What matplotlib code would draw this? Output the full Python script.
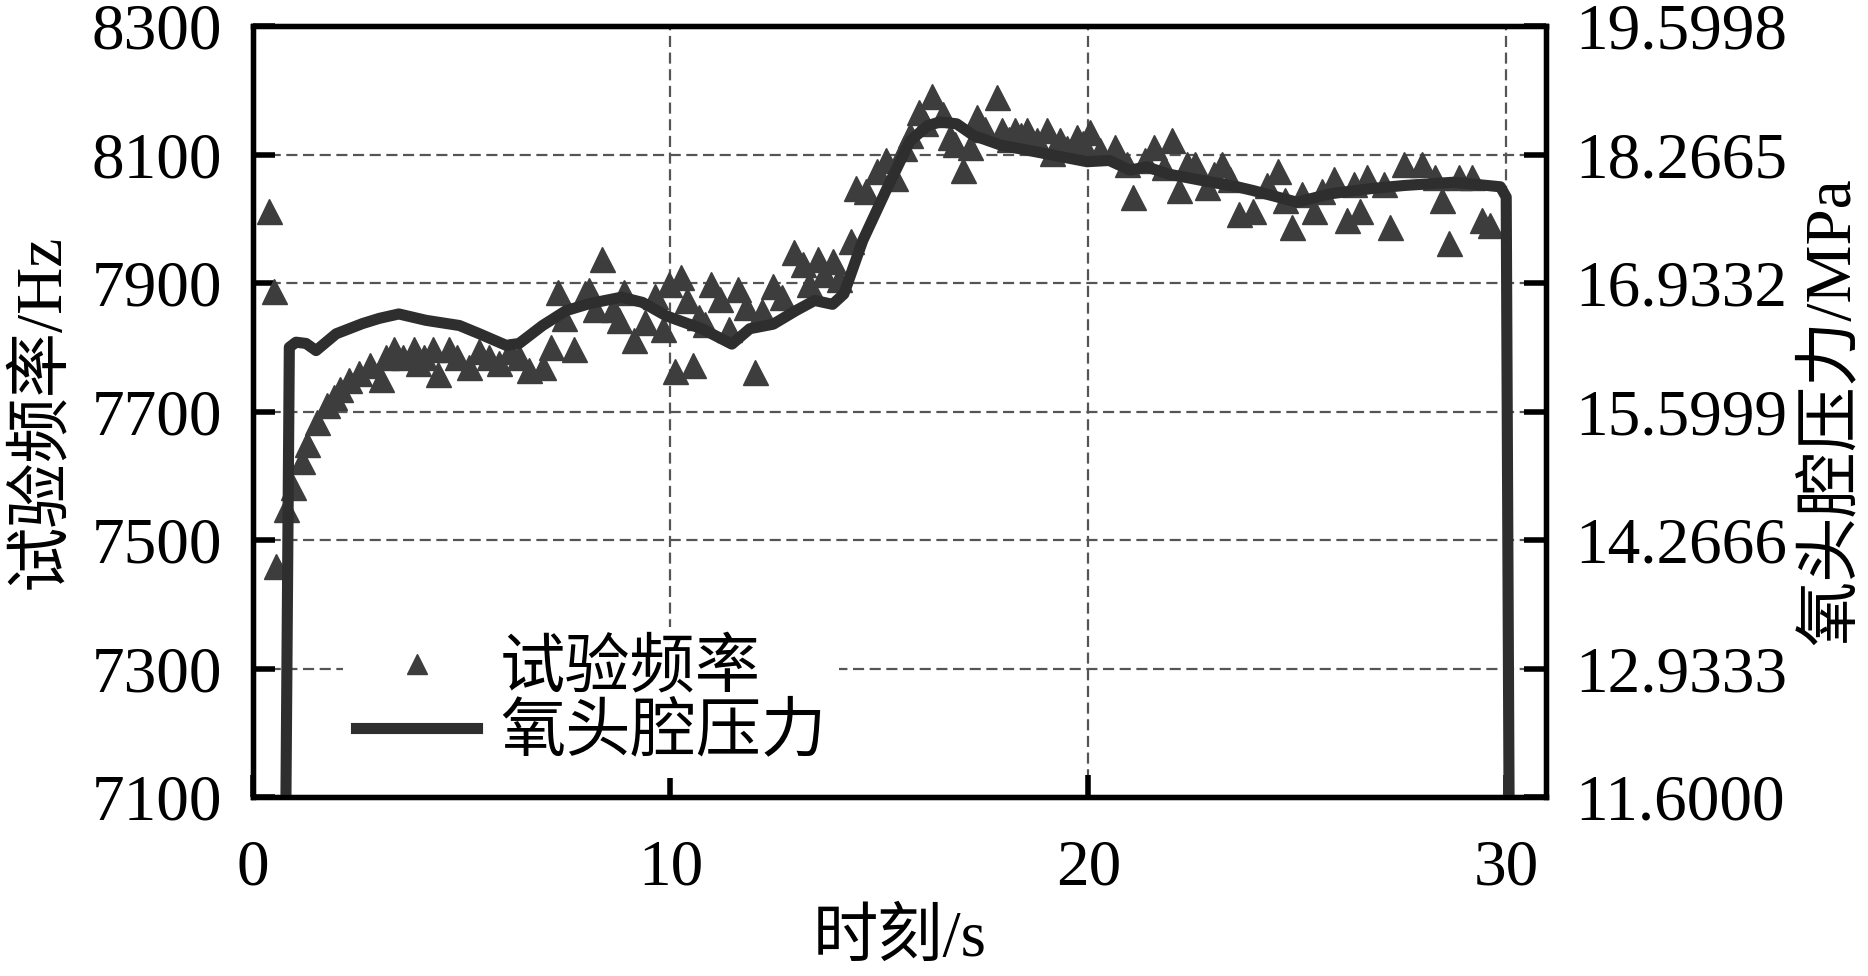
import matplotlib
matplotlib.use('Agg')
import matplotlib.pyplot as plt
from matplotlib.lines import Line2D

plt.rcParams['font.family'] = ['Liberation Serif', 'Noto Sans CJK SC']
plt.rcParams['axes.unicode_minus'] = False

# test frequency (triangles)
t_freq = [0.40, 0.52, 0.57, 0.80, 0.97, 1.18, 1.30, 1.54, 1.77, 1.96, 2.10, 2.30, 2.55, 2.80,
          3.07, 3.20, 3.39, 3.60, 3.87, 3.95, 4.10, 4.31, 4.43, 4.70, 4.90, 5.19, 5.43, 5.67,
          5.90, 6.15, 6.38, 6.62, 6.94, 7.14, 7.30, 7.46, 7.70, 7.96, 8.04, 8.19, 8.36, 8.62,
          8.76, 8.90, 9.12, 9.40, 9.62, 9.83, 9.97, 10.11, 10.26, 10.40, 10.54, 10.68, 10.83,
          10.97, 11.18, 11.39, 11.61, 11.82, 12.03, 12.18, 12.46, 12.67, 12.96, 13.17, 13.31,
          13.53, 13.67, 13.88, 14.03, 14.31, 14.45, 14.67, 14.95, 15.16, 15.38, 15.59, 15.73,
          15.95, 16.10, 16.27, 16.53, 16.69, 16.81, 17.01, 17.17, 17.33, 17.53, 17.81, 17.93,
          18.10, 18.25, 18.40, 18.53, 18.77, 19.01, 19.13, 19.33, 19.50, 19.73, 19.88, 20.04,
          20.28, 20.64, 20.92, 21.08, 21.36, 21.56, 21.80, 22.00, 22.16, 22.36, 22.56, 22.84,
          23.00, 23.20, 23.40, 23.60, 23.95, 24.27, 24.55, 24.71, 24.87, 25.11, 25.39, 25.59,
          25.87, 26.19, 26.35, 26.51, 26.67, 27.07, 27.23, 27.55, 27.98, 28.30, 28.46, 28.62,
          28.86, 29.18, 29.42, 29.62]
freq = [8012, 7887, 7460, 7548, 7583, 7623, 7650, 7683, 7711, 7723, 7735, 7749, 7760, 7772,
        7751, 7785, 7797, 7785, 7797, 7775, 7785, 7797, 7759, 7797, 7785, 7770, 7795, 7785,
        7775, 7795, 7785, 7765, 7770, 7800, 7886, 7845, 7798, 7884, 7889, 7860, 7937, 7860,
        7842, 7886, 7812, 7840, 7880, 7829, 7898, 7763, 7910, 7874, 7773, 7847, 7837,
        7898, 7876, 7829, 7891, 7863, 7762, 7857, 7896, 7878, 7948, 7930, 7898,
        7938, 7914, 7935, 7906, 7966, 8048, 8043, 8074, 8092, 8064, 8110, 8131,
        8167, 8150, 8191, 8164, 8127, 8117, 8076, 8112, 8158, 8140, 8190, 8138,
        8125, 8138, 8130, 8138, 8122, 8138, 8102, 8122, 8110, 8127, 8118, 8135,
        8107, 8112, 8086, 8034, 8091, 8112, 8081, 8122, 8045, 8086, 8086, 8050,
        8070, 8086, 8062, 8008, 8013, 8052, 8075, 8029, 7988, 8039, 8013, 8044,
        8062, 7998, 8055, 8013, 8065, 8055, 7988, 8086, 8086, 8065, 8029, 7962,
        8065, 8065, 7998, 7990]

# oxygen head cavity pressure (line), MPa
t_press = [0.78, 0.88, 1.04, 1.28, 1.52, 2.00, 2.63, 3.03, 3.50, 4.15, 4.95, 5.43, 6.07, 6.38,
           6.94, 7.50, 8.06, 8.83, 9.33, 9.90, 10.75, 11.47, 11.90, 12.46, 13.00, 13.45, 13.88,
           14.15, 14.60, 15.15, 15.73, 16.15, 16.45, 16.85, 17.25, 17.90, 18.93, 19.97, 20.50,
           21.00, 21.40, 21.90, 22.70, 23.56, 23.95, 24.99, 25.79, 26.75, 27.55, 28.74, 29.86,
           30.00, 30.08]
press = [10.50, 16.267, 16.320, 16.307, 16.233, 16.407, 16.513, 16.567, 16.613, 16.547, 16.493,
         16.407, 16.287, 16.307, 16.493, 16.647, 16.720, 16.787, 16.733, 16.593, 16.460, 16.300,
         16.460, 16.507, 16.647, 16.753, 16.713, 16.820, 17.373, 17.886, 18.406, 18.566, 18.606,
         18.586, 18.466, 18.366, 18.280, 18.193, 18.206, 18.106, 18.140, 18.066, 18.000, 17.933,
         17.893, 17.773, 17.860, 17.913, 17.946, 17.980, 17.933, 17.826, 10.50]

x_ticks = [0, 10, 20, 30]
freq_ticks = [7100, 7300, 7500, 7700, 7900, 8100, 8300]
press_ticks = [11.6 + 1.3333 * i for i in range(7)]

fs = 47
mark_col = '#3d3d3d'
line_col = '#2e2e2e'

fig = plt.figure(figsize=(18.68, 9.76), dpi=100)
ax = fig.add_axes([0.1352, 0.1834, 0.8278 - 0.1352, 0.9732 - 0.1834])
ax2 = ax.twinx()

ax.plot(t_freq, freq, linestyle='none', marker='^', ms=18, color=mark_col, mec=mark_col)
ax2.plot(t_press, press, color=line_col, lw=8, solid_joinstyle='round')

ax.set_xlim(0, 30.96)
ax.set_ylim(7100, 8300)
ax2.set_ylim(11.6, 19.5998)
ax.set_xticks(x_ticks)
ax.set_yticks(freq_ticks)
ax2.set_yticks(press_ticks)
ax2.set_yticklabels(['%.4f' % v for v in press_ticks])

ax.grid(True, color='#555555', lw=1.6, linestyle=(0, (5, 2.5)))
ax.set_axisbelow(True)

for a in (ax, ax2):
    for s in a.spines.values():
        s.set_linewidth(3.8)
ax.tick_params(axis='both', direction='in', length=16, width=4, labelsize=fs)
ax.tick_params(axis='y', pad=22)
ax.tick_params(axis='x', pad=30)
ax2.tick_params(axis='y', direction='in', length=16, width=4, labelsize=fs, pad=21)

ax.set_xlabel('时刻/s', fontsize=fs, labelpad=8)
ax.set_ylabel('试验频率/Hz', fontsize=fs, labelpad=14)
ax2.set_ylabel('氧头腔压力/MPa', fontsize=fs, labelpad=10)

handles = [Line2D([], [], linestyle='none', marker='^', ms=14, color=mark_col),
           Line2D([], [], color=line_col, lw=8)]
leg = ax2.legend(handles, ['试验频率', '氧头腔压力'], loc='lower left',
                 bbox_to_anchor=(0.07, 0.025), fontsize=fs, frameon=True, fancybox=False,
                 handlelength=1.85, handletextpad=0.35, labelspacing=0.05, borderpad=0.2,
                 borderaxespad=0)
leg.get_frame().set_facecolor('white')
leg.get_frame().set_edgecolor('none')
leg.get_frame().set_alpha(1)

fig.savefig('out.png', dpi=100)
